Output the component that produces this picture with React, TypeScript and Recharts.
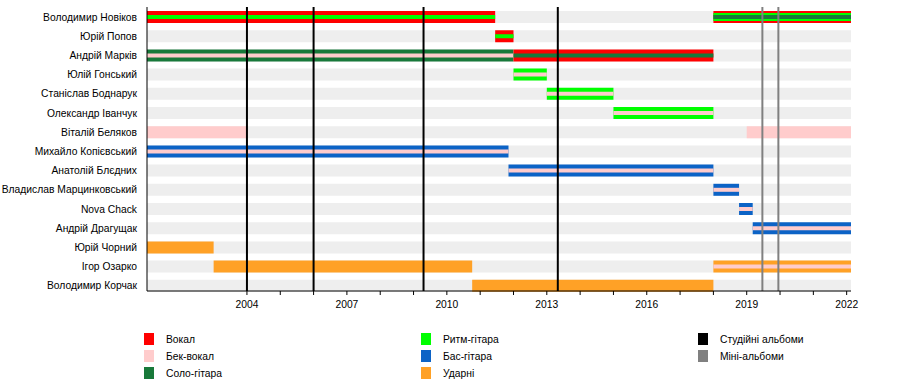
import React from 'react';
import { ComposedChart, Bar, Cell, XAxis, YAxis, ReferenceLine } from 'recharts';

const FONT = '"Liberation Sans", Arial, sans-serif';
const FS = 10.3;

const members = [
  'Володимир Новіков',
  'Юрій Попов',
  'Андрій Марків',
  'Юлій Гонський',
  'Станіслав Боднарук',
  'Олександр Іванчук',
  'Віталій Беляков',
  'Михайло Копієвський',
  'Анатолій Блєдних',
  'Владислав Марцинковський',
  'Nova Chack',
  'Андрій Драгущак',
  'Юрій Чорний',
  'Ігор Озарко',
  'Володимир Корчак',
];

const roles = ['Вокал', 'Бек-вокал', 'Соло-гітара', 'Ритм-гітара', 'Бас-гітара', 'Ударні'];
const roleColors = ['#ff0000', '#ffcccc', '#18793a', '#00ff00', '#0c63c6', '#ffa126'];

const START = 2001;
const END = 2022.13;
const yearTicks = [2004, 2005, 2006, 2007, 2008, 2009, 2010, 2011, 2012, 2013, 2014, 2015, 2016, 2017, 2018, 2019, 2020, 2021, 2022];

// member, from, to, roles (first one = bar colour, others = stripes)
const periods: [string, number, number, string[]][] = [
  ['Володимир Новіков', 2001, 2011.45, ['Вокал', 'Ритм-гітара']],
  ['Володимир Новіков', 2018, END, ['Вокал', 'Ритм-гітара', 'Соло-гітара']],
  ['Юрій Попов', 2011.45, 2012, ['Вокал', 'Ритм-гітара']],
  ['Андрій Марків', 2001, 2012, ['Соло-гітара', 'Бек-вокал']],
  ['Андрій Марків', 2012, 2018, ['Вокал', 'Соло-гітара']],
  ['Юлій Гонський', 2012, 2013, ['Ритм-гітара', 'Бек-вокал']],
  ['Станіслав Боднарук', 2013, 2015, ['Ритм-гітара', 'Бек-вокал']],
  ['Олександр Іванчук', 2015, 2018, ['Ритм-гітара', 'Бек-вокал']],
  ['Віталій Беляков', 2001, 2004, ['Бек-вокал']],
  ['Віталій Беляков', 2019, END, ['Бек-вокал']],
  ['Михайло Копієвський', 2001, 2011.85, ['Бас-гітара', 'Бек-вокал']],
  ['Анатолій Блєдних', 2011.85, 2018, ['Бас-гітара', 'Бек-вокал']],
  ['Владислав Марцинковський', 2018, 2018.77, ['Бас-гітара', 'Бек-вокал']],
  ['Nova Chack', 2018.77, 2019.18, ['Бас-гітара', 'Бек-вокал']],
  ['Андрій Драгущак', 2019.18, END, ['Бас-гітара', 'Бек-вокал']],
  ['Юрій Чорний', 2001, 2003, ['Ударні']],
  ['Ігор Озарко', 2003, 2010.76, ['Ударні']],
  ['Ігор Озарко', 2018, END, ['Ударні', 'Бек-вокал']],
  ['Володимир Корчак', 2010.76, 2018, ['Ударні']],
];

const studioAlbums = [2004.0, 2006.0, 2009.3, 2013.33];
const miniAlbums = [2019.47, 2019.95];

const layerSizes = [12, 8, 4];
const slots = [0, 1];

const colorOf = (role: string) => roleColors[roles.indexOf(role)];

const rows = members.map((name) => {
  const row: any = { name, track: [START, END] };
  periods
    .filter((p) => p[0] === name)
    .forEach(([, from, to, rs], slot) => {
      const layers = rs.length === 1 ? [0] : rs.length === 2 ? [0, 2] : [0, 1, 2];
      rs.forEach((r, i) => {
        row[`s${slot}l${layers[i]}`] = [from, to];
        row[`c${slot}l${layers[i]}`] = colorOf(r);
      });
    });
  return row;
});

const legendItems = [...roles, 'Студійні альбоми', 'Міні-альбоми'];
const legendColors = [...roleColors, '#000000', '#808080'];

const pad = { top: 0, bottom: -4 };

const NameTick = (props: any) => {
  const { x, y, payload } = props;
  return (
    <text x={x} y={y} dy={4} textAnchor="end" fontSize={FS} fill="#000" fontFamily={FONT}>
      {payload.value}
    </text>
  );
};

export default function App() {
  return (
    <div style={{ position: 'absolute', left: 0, top: 0, width: 900, height: 380, fontFamily: FONT, background: '#fff' }}>
      <ComposedChart
        width={900}
        height={380}
        data={rows}
        layout="vertical"
        margin={{ top: 7, right: 49, bottom: 59, left: 0 }}
        style={{ fontFamily: FONT }}
      >
        <XAxis
          type="number"
          domain={[START, END]}
          allowDataOverflow
          ticks={yearTicks}
          interval={0}
          tickFormatter={(v) => ((v - 2004) % 3 === 0 ? String(v) : '')}
          tick={{ fill: '#000', fontSize: FS }}
          tickSize={4}
          tickMargin={6}
          stroke="#000"
        />
        <YAxis
          yAxisId="track"
          type="category"
          dataKey="name"
          width={147}
          padding={pad}
          tickLine={false}
          tickSize={0}
          tickMargin={10}
          interval={0}
          tick={<NameTick />}
          stroke="#000"
        />
        {slots.map((s) =>
          layerSizes.map((_, l) => (
            <YAxis
              key={`y${s}${l}`}
              yAxisId={`s${s}l${l}`}
              type="category"
              dataKey="name"
              orientation="right"
              width={0}
              padding={pad}
              hide
            />
          ))
        )}
        <Bar yAxisId="track" dataKey="track" barSize={12} fill="#eeeeee" isAnimationActive={false} />
        {layerSizes.map((size, l) =>
          slots.map((s) => (
            <Bar
              key={`b${s}${l}`}
              yAxisId={`s${s}l${l}`}
              dataKey={`s${s}l${l}`}
              barSize={size}
              isAnimationActive={false}
            >
              {rows.map((r, i) => (
                <Cell key={i} fill={r[`c${s}l${l}`] || 'none'} />
              ))}
            </Bar>
          ))
        )}
        {miniAlbums.map((x) => (
          <ReferenceLine key={`m${x}`} yAxisId="track" x={x} stroke="#808080" strokeWidth={2} />
        ))}
        {studioAlbums.map((x) => (
          <ReferenceLine key={`a${x}`} yAxisId="track" x={x} stroke="#000" strokeWidth={2} />
        ))}
      </ComposedChart>
      {legendItems.map((label, i) => {
        const col = Math.floor(i / 3);
        const row = i % 3;
        return (
          <div
            key={label}
            style={{
              position: 'absolute',
              left: 144 + col * 277,
              top: 333 + row * 17,
              height: 12,
              display: 'flex',
              alignItems: 'center',
              fontSize: FS,
              color: '#000',
            }}
          >
            <span style={{ display: 'inline-block', width: 10, height: 12, background: legendColors[i] }} />
            <span style={{ marginLeft: 12 }}>{label}</span>
          </div>
        );
      })}
    </div>
  );
}
